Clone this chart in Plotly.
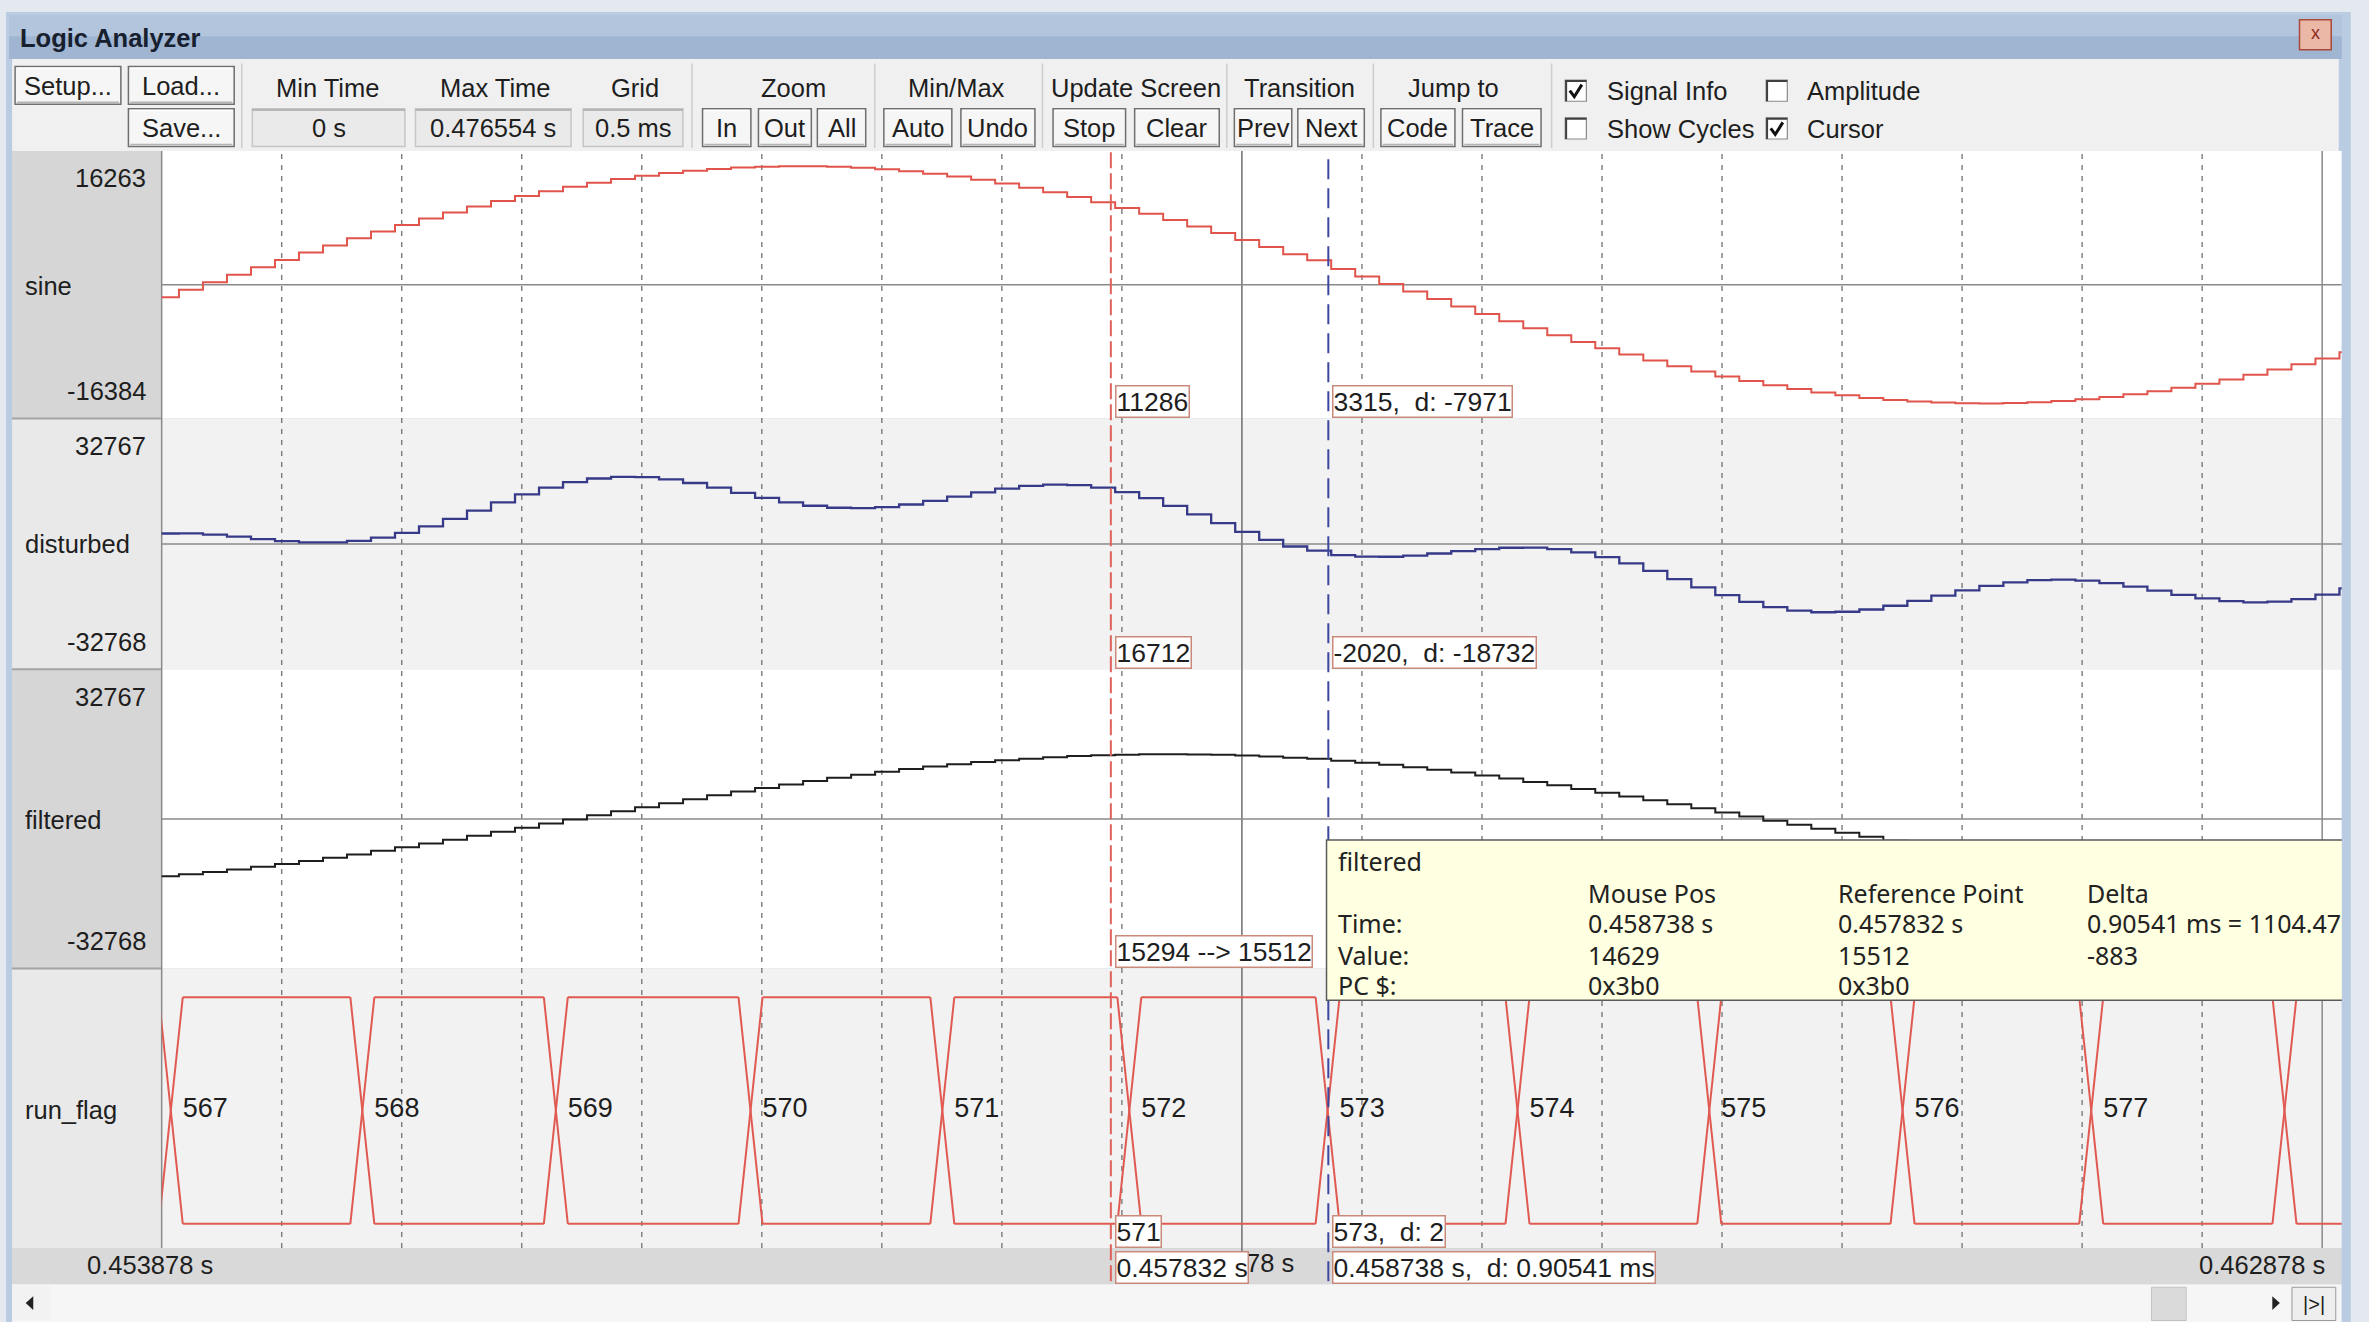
import plotly.graph_objects as go

W, H = 2369, 1322


def X(v):
    return v / 1568.0


def Y(v):
    return 1.0 - v / 875.0


UI = "Liberation Sans, Arial, Helvetica, sans-serif"
TIP = "Noto Sans, DejaVu Sans, Verdana, sans-serif"
INK = "#1e1e1e"
FS = 25.5

# ---------------- data ----------------
SAMPLE_T0 = 0.453850      # s, first sample shown
SAMPLE_DT = 0.0001        # s, sample period

SINE = [-1789, -755, 281, 1319, 2349, 3369, 4377, 5364, 6330, 7272,
        8183, 9063, 9904, 10708, 11462, 12171, 12832, 13444, 14000, 14498,
        14937, 15316, 15633, 15886, 16075, 16199, 16258, 16250, 16176, 16038,
        15834, 15566, 15235, 14841, 14389, 13877, 13310, 12688, 12013, 11286,
        10525, 9714, 8864, 7977, 7060, 6110, 5137, 4146, 3315, 2113,
        1081, 46, -994, -2027, -3052, -4064, -5061, -6037, -6992, -7916,
        -8809, -9668, -10486, -11263, -11994, -12676, -13309, -13889, -14411, -14876,
        -15279, -15626, -15907, -16122, -16275, -16362, -16381, -16337, -16226, -16050,
        -15809, -15505, -15138, -14710, -14225, -13680, -13081, -12430, -11729, -10980,
        -10187, -9353, -8483]

DISTURBED = [3094, 3107, 2744, 2141, 1451, 838, 461, 446, 892, 1846,
             3300, 5201, 7441, 9886, 12360, 14702, 16748, 18362, 19438, 19924,
             19820, 19178, 18096, 16708, 15177, 13668, 12342, 11332, 10738, 10612,
             10951, 11704, 12772, 14019, 15287, 16408, 17226, 17606, 17451, 16712,
             15408, 13576, 11327, 8799, 6162, 3579, 1221, -772, -2020, -3313,
             -3802, -3816, -3457, -2849, -2154, -1533, -1145, -1119, -1554, -2490,
             -3926, -5806, -8023, -10441, -12892, -15207, -17225, -18807, -19849, -20302,
             -20162, -19488, -18370, -16944, -15377, -13831, -12465, -11419, -10788, -10624,
             -10926, -11643, -12675, -13888, -15123, -16211, -16997, -17348, -17167, -16406,
             -15070, -13215, -10946]

FILTERED = [-13970, -13480, -12931, -12334, -11685, -10991, -10255, -9470, -8651, -7795,
            -6911, -5998, -5060, -4103, -3126, -2139, -1143, -143, 858, 1855,
            2848, 3827, 4790, 5732, 6654, 7548, 8409, 9237, 10033, 10784,
            11493, 12155, 12768, 13328, 13834, 14286, 14680, 15014, 15294, 15512,
            15650, 15737, 15760, 15719, 15614, 15447, 15217, 14927, 14629, 14164,
            13695, 13174, 12597, 11973, 11296, 10573, 9811, 9005, 8168, 7297,
            6395, 5468, 4515, 3548, 2566, 1573, 575, -425, -1426, -2423,
            -3406, -4376, -5328, -6259, -7165, -8043, -8893, -9698, -10469, -11193,
            -11874, -12506, -13092, -13624, -14099, -14518, -14879, -15178, -15417, -15593,
            -15708, -15757, -15744]

RUN_FLAG_VALUES = [566, 567, 568, 569, 570, 571, 572, 573, 574, 575, 576, 577, 578]
RUN_FLAG_EDGES = [0.453916, 0.454714, 0.455520, 0.456331, 0.457130, 0.457909,
                  0.458735, 0.459526, 0.460325, 0.461130, 0.461916, 0.462721]
RUN_FLAG_EDGE_W = 0.0001

T_LEFT = 0.453878
T_RIGHT = 0.462878
GRID_STEP = 0.0005
REF_T = 0.457832
MOUSE_T = 0.458738

ROW_NAMES = ["sine", "disturbed", "filtered", "run_flag"]
ROW_MAX = ["16263", "32767", "32767"]
ROW_MIN = ["-16384", "-32768", "-32768"]

TIMES = [SAMPLE_T0 + i * SAMPLE_DT for i in range(len(SINE))]

# ---------------- figure ----------------
shapes = []
annotations = []


def rect(x0, y0, x1, y1, fill, line=None, lw=1.0, layer="below"):
    shapes.append(dict(type="rect", xref="paper", yref="paper",
                       x0=X(x0), x1=X(x1), y0=Y(y1), y1=Y(y0),
                       fillcolor=fill,
                       line=dict(color=line if line else "rgba(0,0,0,0)", width=lw if line else 0),
                       layer=layer))


def seg(x0, y0, x1, y1, color, lw=1.0, layer="below", dash=None):
    d = dict(color=color, width=lw)
    if dash:
        d["dash"] = dash
    shapes.append(dict(type="line", xref="paper", yref="paper",
                       x0=X(x0), x1=X(x1), y0=Y(y0), y1=Y(y1), line=d, layer=layer))


def text(s, x, y, size=FS, anchor="left", color=INK, family=UI):
    annotations.append(dict(text=s, x=X(x), y=Y(y), xref="paper", yref="paper",
                            xanchor=anchor, yanchor="middle", showarrow=False,
                            font=dict(size=size, color=color, family=family)))


def box(s, t, y, yanchor):
    annotations.append(dict(text=s, x=t, xref="x", xshift=4, xanchor="left",
                            y=Y(y), yref="paper", yanchor=yanchor, showarrow=False,
                            bgcolor="#ffffff", bordercolor="#c98a7c", borderwidth=1.5,
                            borderpad=0, font=dict(size=26.5, color=INK, family=UI)))


def button(lab, x0, y0, x1, y1):
    rect(x0, y0, x1, y1, "#f6f6f6", line="#6f6f6f", lw=1.5)
    seg(x0 + 1.2, y0 + 1.2, x1 - 1.2, y0 + 1.2, "#ffffff", 1.5)
    seg(x0 + 1.2, y1 - 1.4, x1 - 1.2, y1 - 1.4, "#b4b4b4", 1.5)
    text(lab, (x0 + x1) / 2, (y0 + y1) / 2 + 0.5, anchor="center")


# window chrome
rect(4, 8, 1554, 875, "#b9cce2")
rect(6, 10, 1551, 24, "#b2c5dc")
rect(6, 24, 1551, 39, "#9fb5d1")
text("<b>Logic Analyzer</b>", 12, 25, size=FS, color="#17202e")
rect(1522, 13, 1543, 33, "#ebb8a8", line="#a8493a", lw=1.5)
text("x", 1532.5, 22, size=18, anchor="center", color="#8e2a1e")

# toolbar
rect(8, 39, 1548, 100, "#f0f0f0")
for sx in [160, 458, 579, 690, 812, 909, 1027]:
    seg(sx, 42, sx, 98, "#cdcdcd", 1.5)

BUTTONS = [("Setup...", 10, 44, 80, 69), ("Load...", 85, 44, 155, 69), ("Save...", 85, 72, 155, 97),
           ("In", 465, 72, 497, 97), ("Out", 502, 72, 537, 97), ("All", 541, 72, 573, 97),
           ("Auto", 585, 72, 630, 97), ("Undo", 636, 72, 685, 97),
           ("Stop", 697, 72, 745, 97), ("Clear", 751, 72, 807, 97),
           ("Prev", 817, 72, 855, 97), ("Next", 859, 72, 903, 97),
           ("Code", 914, 72, 963, 97), ("Trace", 968, 72, 1020, 97)]
for b in BUTTONS:
    button(*b)

FIELDS = [("0 s", 167, 72, 268, 97), ("0.476554 s", 275, 72, 378, 97), ("0.5 ms", 386, 72, 452, 97)]
for lab, x0, y0, x1, y1 in FIELDS:
    rect(x0, y0, x1, y1, "#eaeaea", line="#c6c6c6", lw=1.5)
    seg(x0, y0 + 0.8, x1, y0 + 0.8, "#a8a8a8", 1.5)
    text(lab, (x0 + x1) / 2, (y0 + y1) / 2 + 0.5, anchor="center")

GROUPS = [("Min Time", 217), ("Max Time", 328), ("Grid", 420), ("Zoom", 525), ("Min/Max", 633),
          ("Update Screen", 752), ("Transition", 860), ("Jump to", 962)]
for lab, cx in GROUPS:
    text(lab, cx, 58, anchor="center")

CHECKS = [(1036, 53, "Signal Info", True), (1169, 53, "Amplitude", False),
          (1036, 78, "Show Cycles", False), (1169, 78, "Cursor", True)]
for cx, cy, lab, on in CHECKS:
    rect(cx, cy, cx + 14, cy + 14, "#ffffff", line="#8a8a8a", lw=1.2)
    seg(cx, cy + 0.6, cx + 14, cy + 0.6, "#404040", 2)
    seg(cx + 0.6, cy, cx + 0.6, cy + 14, "#404040", 2)
    if on:
        shapes.append(dict(type="path", xref="paper", yref="paper",
                           path="M %f,%f L %f,%f L %f,%f" % (X(cx + 3), Y(cy + 7), X(cx + 6), Y(cy + 11),
                                                             X(cx + 11), Y(cy + 3)),
                           line=dict(color="#111111", width=3), layer="below"))
    text(lab, cx + 26, cy + 7.5)

# label panel and plot rows
ROWS = [(100, 277), (277, 443), (443, 641), (641, 826)]
PANEL_FILL = ["#d6d6d6", "#e9e9e9", "#d6d6d6", "#e9e9e9"]
PLOT_FILL = ["#ffffff", "#f2f2f2", "#ffffff", "#f2f2f2"]
for (r0, r1), pf, bf in zip(ROWS, PANEL_FILL, PLOT_FILL):
    rect(8, r0, 107, r1, pf)
    rect(107, r0, 1550, r1, bf)
for yy in [277, 443, 641]:
    seg(8, yy, 107, yy, "#a4a4a4", 2)
seg(107, 100, 107, 826, "#8a8a8a", 1.5)

# time strip + scrollbar
rect(8, 826, 1550, 850, "#d9d9d9")
rect(8, 850, 1550, 875, "#f6f6f6")
rect(8, 851, 33, 874, "#f2f2f2")
shapes.append(dict(type="path", xref="paper", yref="paper",
                   path="M %f,%f L %f,%f L %f,%f Z" % (X(17), Y(862.5), X(22), Y(858), X(22), Y(867)),
                   fillcolor="#222222", line=dict(width=0), layer="below"))
rect(1424, 852, 1447, 874, "#dadada", line="#c2c2c2", lw=1)
shapes.append(dict(type="path", xref="paper", yref="paper",
                   path="M %f,%f L %f,%f L %f,%f Z" % (X(1509), Y(862.5), X(1504), Y(858), X(1504), Y(867)),
                   fillcolor="#222222", line=dict(width=0), layer="below"))
rect(1517, 852, 1546, 874, "#eeeeee", line="#9a9a9a", lw=1)
text("|>|", 1531.5, 863, size=20, anchor="center")

# grid
for k in range(1, 19):
    t = T_LEFT + k * GRID_STEP
    if k == 9:
        shapes.append(dict(type="line", xref="x", yref="paper", x0=t, x1=t, y0=Y(848), y1=Y(100),
                           line=dict(color="#6e6e6e", width=1.5), layer="below"))
    elif k == 18:
        shapes.append(dict(type="line", xref="x", yref="paper", x0=t, x1=t, y0=Y(826), y1=Y(100),
                           line=dict(color="#8a8a8a", width=1.5), layer="below"))
    else:
        shapes.append(dict(type="line", xref="x", yref="paper", x0=t, x1=t, y0=Y(826), y1=Y(100),
                           line=dict(color="#7a7a7a", width=1.4, dash="5px,6px"), layer="below"))

# centre lines of analog rows
for yref, yc in [("y", -60), ("y2", 0), ("y3", 0)]:
    shapes.append(dict(type="line", xref="paper", yref=yref, x0=X(107), x1=X(1550), y0=yc, y1=yc,
                       line=dict(color="#8a8a8a", width=1.5), layer="below"))

# cursors
shapes.append(dict(type="line", xref="x", yref="paper", x0=REF_T, x1=REF_T, y0=Y(848), y1=Y(100),
                   line=dict(color="#e0625a", width=2, dash="16px,5px"), layer="above"))
shapes.append(dict(type="line", xref="x", yref="paper", x0=MOUSE_T, x1=MOUSE_T, y0=Y(848), y1=Y(100),
                   line=dict(color="#3c47a0", width=2, dash="20px,9px"), layer="above"))

# tooltip
rect(878, 556, 1553, 662, "#ffffe1", line="#5a5a5a", lw=1.5, layer="above")
# right frame strip on top
rect(1550, 8, 1556, 875, "#b9cce2", layer="above")
rect(1556, 0, 1568, 875, "#e4e9ef", layer="above")

# left panel texts
for i, (r0, r1) in enumerate(ROWS):
    if i < 3:
        text(ROW_MAX[i], 98, r0 + 18, anchor="right")
        text(ROW_MIN[i], 98, r1 - 18, anchor="right")
text(ROW_NAMES[0], 15, 189)
text(ROW_NAMES[1], 15, 360)
text(ROW_NAMES[2], 15, 543)
text(ROW_NAMES[3], 15, 735)

# time labels (the middle one is partly hidden behind the reference box, as in the tool)
text("0.453878 s", 99, 837, anchor="center")
text("0.458378 s", 858, 836, anchor="right")
text("0.462878 s", 1540, 837, anchor="right")

# cursor value boxes
NB = "\u00a0"
box("11286", REF_T, 276.5, "bottom")
box("3315," + NB + " d: -7971", MOUSE_T, 276.5, "bottom")
box("16712", REF_T, 442.5, "bottom")
box("-2020," + NB + " d: -18732", MOUSE_T, 442.5, "bottom")
box("15294 --> 15512", REF_T, 640.5, "bottom")
box("571", REF_T, 826, "bottom")
box("573," + NB + " d: 2", MOUSE_T, 826, "bottom")
box("0.457832 s", REF_T, 828, "top")
box("0.458738 s," + NB + " d: 0.90541 ms", MOUSE_T, 828, "top")

# tooltip texts
TIP_ROWS = [("filtered", 884, 570), ("Mouse Pos", 1050, 591), ("Reference Point", 1215, 591), ("Delta", 1380, 591),
            ("Time:", 884, 611), ("0.458738 s", 1050, 611), ("0.457832 s", 1215, 611),
            ("0.90541 ms = 1104.47", 1380, 611),
            ("Value:", 884, 632), ("14629", 1050, 632), ("15512", 1215, 632), ("-883", 1380, 632),
            ("PC $:", 884, 652), ("0x3b0", 1050, 652), ("0x3b0", 1215, 652)]
for s, x, y in TIP_ROWS:
    text(s, x, y, size=25, family=TIP, color="#222222")

# ---------------- traces ----------------
fig = go.Figure()
fig.add_trace(go.Scatter(x=TIMES, y=SINE, mode="lines", line=dict(color="#e0544c", width=2, shape="hv"),
                         yaxis="y", hoverinfo="skip"))
fig.add_trace(go.Scatter(x=TIMES, y=DISTURBED, mode="lines", line=dict(color="#363a88", width=2.3, shape="hv"),
                         yaxis="y2", hoverinfo="skip"))
fig.add_trace(go.Scatter(x=TIMES, y=FILTERED, mode="lines", line=dict(color="#1e1e1e", width=2, shape="hv"),
                         yaxis="y3", hoverinfo="skip"))

h = RUN_FLAG_EDGE_W / 2
starts = [T_LEFT - 0.001] + [e + h for e in RUN_FLAG_EDGES]
ends = [e - h for e in RUN_FLAG_EDGES] + [T_RIGHT + 0.001]
bx, by = [], []
for s, e in zip(starts, ends):
    bx += [s, e, None, s, e, None]
    by += [1, 1, None, 0, 0, None]
for e in RUN_FLAG_EDGES:
    bx += [e - h, e + h, None, e - h, e + h, None]
    by += [1, 0, None, 0, 1, None]
fig.add_trace(go.Scatter(x=bx, y=by, mode="lines", line=dict(color="#e05a52", width=2),
                         yaxis="y4", hoverinfo="skip", connectgaps=False))
lab_x = [e + h for e in RUN_FLAG_EDGES[:-1]]
lab_t = [str(v) for v in RUN_FLAG_VALUES[1:-1]]
fig.add_trace(go.Scatter(x=lab_x, y=[0.5] * len(lab_x), mode="text", text=lab_t,
                         textposition="middle right", textfont=dict(size=27, family=UI, color=INK),
                         yaxis="y4", hoverinfo="skip"))


def yrange(vtop, ptop, vbot, pbot, r0, r1):
    k = (vtop - vbot) / float(pbot - ptop)
    return [vbot - (r1 - pbot) * k, vtop + (ptop - r0) * k]


X_RIGHT = T_LEFT + (T_RIGHT - T_LEFT) * (1550 - 107) / (1537 - 107)


def yax(r, rng):
    return dict(domain=[Y(r[1]), Y(r[0])], range=rng, visible=False, fixedrange=True, anchor="x")


fig.update_layout(
    width=W, height=H, autosize=False,
    margin=dict(l=0, r=0, t=0, b=0),
    paper_bgcolor="#e4e9ef", plot_bgcolor="rgba(0,0,0,0)",
    showlegend=False,
    xaxis=dict(domain=[X(107), X(1550)], range=[T_LEFT, X_RIGHT], visible=False, fixedrange=True, anchor="y"),
    yaxis=yax(ROWS[0], yrange(16263, 110, -16384, 267, 100, 277)),
    yaxis2=yax(ROWS[1], yrange(32767, 287, -32768, 433, 277, 443)),
    yaxis3=yax(ROWS[2], yrange(32767, 453, -32768, 631, 443, 641)),
    yaxis4=yax(ROWS[3], yrange(1, 660, 0, 810, 641, 826)),
    shapes=shapes,
    annotations=annotations,
)

fig.write_html("out.html", include_plotlyjs=True,
               config={"displayModeBar": False, "staticPlot": True},
               post_script="document.body.style.margin='0px';document.body.style.background='#e4e9ef';"
                           "document.body.style.overflow='hidden';")
